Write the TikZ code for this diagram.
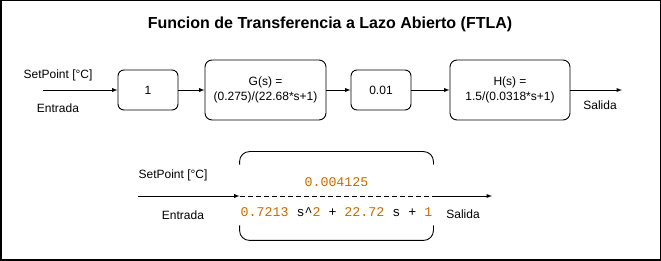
\documentclass[tikz,border=0pt]{standalone}
\usepackage{fontspec}
\setmainfont{Liberation Sans}
\setmonofont{Liberation Mono}
\definecolor{numero}{HTML}{C46B00}

\tikzset{
  bloque/.style={draw,line width=0.9pt,rounded corners=7pt,align=center,
    font=\fontsize{12}{15}\selectfont},
  etiqueta/.style={font=\fontsize{12}{14}\selectfont},
  codigo/.style={font=\ttfamily\fontsize{13.3}{15}\selectfont}
}

\begin{document}
\begin{tikzpicture}[>=latex,x=1pt,y=-1pt,line width=0.9pt]
% marco
\draw[line width=1.5pt] (0.75,0.75) rectangle (660.25,260.25);
\useasboundingbox (0,0) rectangle (661,261);

\node[font=\bfseries\fontsize{16}{19}\selectfont] (titulo) at (330,24)
  {Funcion de Transferencia a Lazo Abierto (FTLA)};

% lazo abierto en bloques
\node[bloque,minimum width=60pt,minimum height=40pt,rounded corners=6pt] (uno) at (148,90) {1};
\node[bloque,minimum width=121pt,minimum height=60pt] (planta) at (265.5,90) {G(s) =\\(0.275)/(22.68*s+1)};
\node[bloque,minimum width=60pt,minimum height=40pt,rounded corners=6pt] (sensor) at (381,90) {0.01};
\node[bloque,minimum width=120pt,minimum height=60pt] (filtro) at (510,90) {H(s) =\\1.5/(0.0318*s+1)};
\coordinate (ent1) at (43,90);
\coordinate (sal1) at (622,90);

\draw[->] (ent1)--(uno);
\draw[->] (uno)--(planta);
\draw[->] (planta)--(sensor);
\draw[->] (sensor)--(filtro);
\draw[->] (filtro)--(sal1);

\node[etiqueta] (sp1) at (58,75) {SetPoint [°C]};
\node[etiqueta] (e1) at (58,108) {Entrada};
\node[etiqueta] (s1) at (600,105) {Salida};

% funcion equivalente
\node[minimum width=193pt,minimum height=88pt,inner sep=0pt] (ftla) at (336.5,196) {};
\draw[rounded corners=10pt] ([shift={(0,13)}]ftla.north west)--(ftla.north west)--(ftla.north east)--++(0,13);
\draw[rounded corners=10pt] ([shift={(0,-15)}]ftla.south west)--(ftla.south west)--(ftla.south east)--++(0,-15);
\draw[dash pattern=on 5pt off 3pt] (ftla.west)--(ftla.east);
\node[codigo,text=numero] (num) at (336.5,182) {0.004125};
\node[codigo] (den) at (336.5,212) {\textcolor{numero}{0.7213} s\^{}\textcolor{numero}{2} + \textcolor{numero}{22.72} s + \textcolor{numero}{1}};

\coordinate (ent2) at (138,196);
\coordinate (sal2) at (492,196);
\draw[->] (ent2)--(ftla.west);
\draw[->] (ftla.east)--(sal2);

\node[etiqueta] (sp2) at (173,175) {SetPoint [°C]};
\node[etiqueta] (e2) at (183,215) {Entrada};
\node[etiqueta] (s2) at (463,214) {Salida};
\end{tikzpicture}
\end{document}
